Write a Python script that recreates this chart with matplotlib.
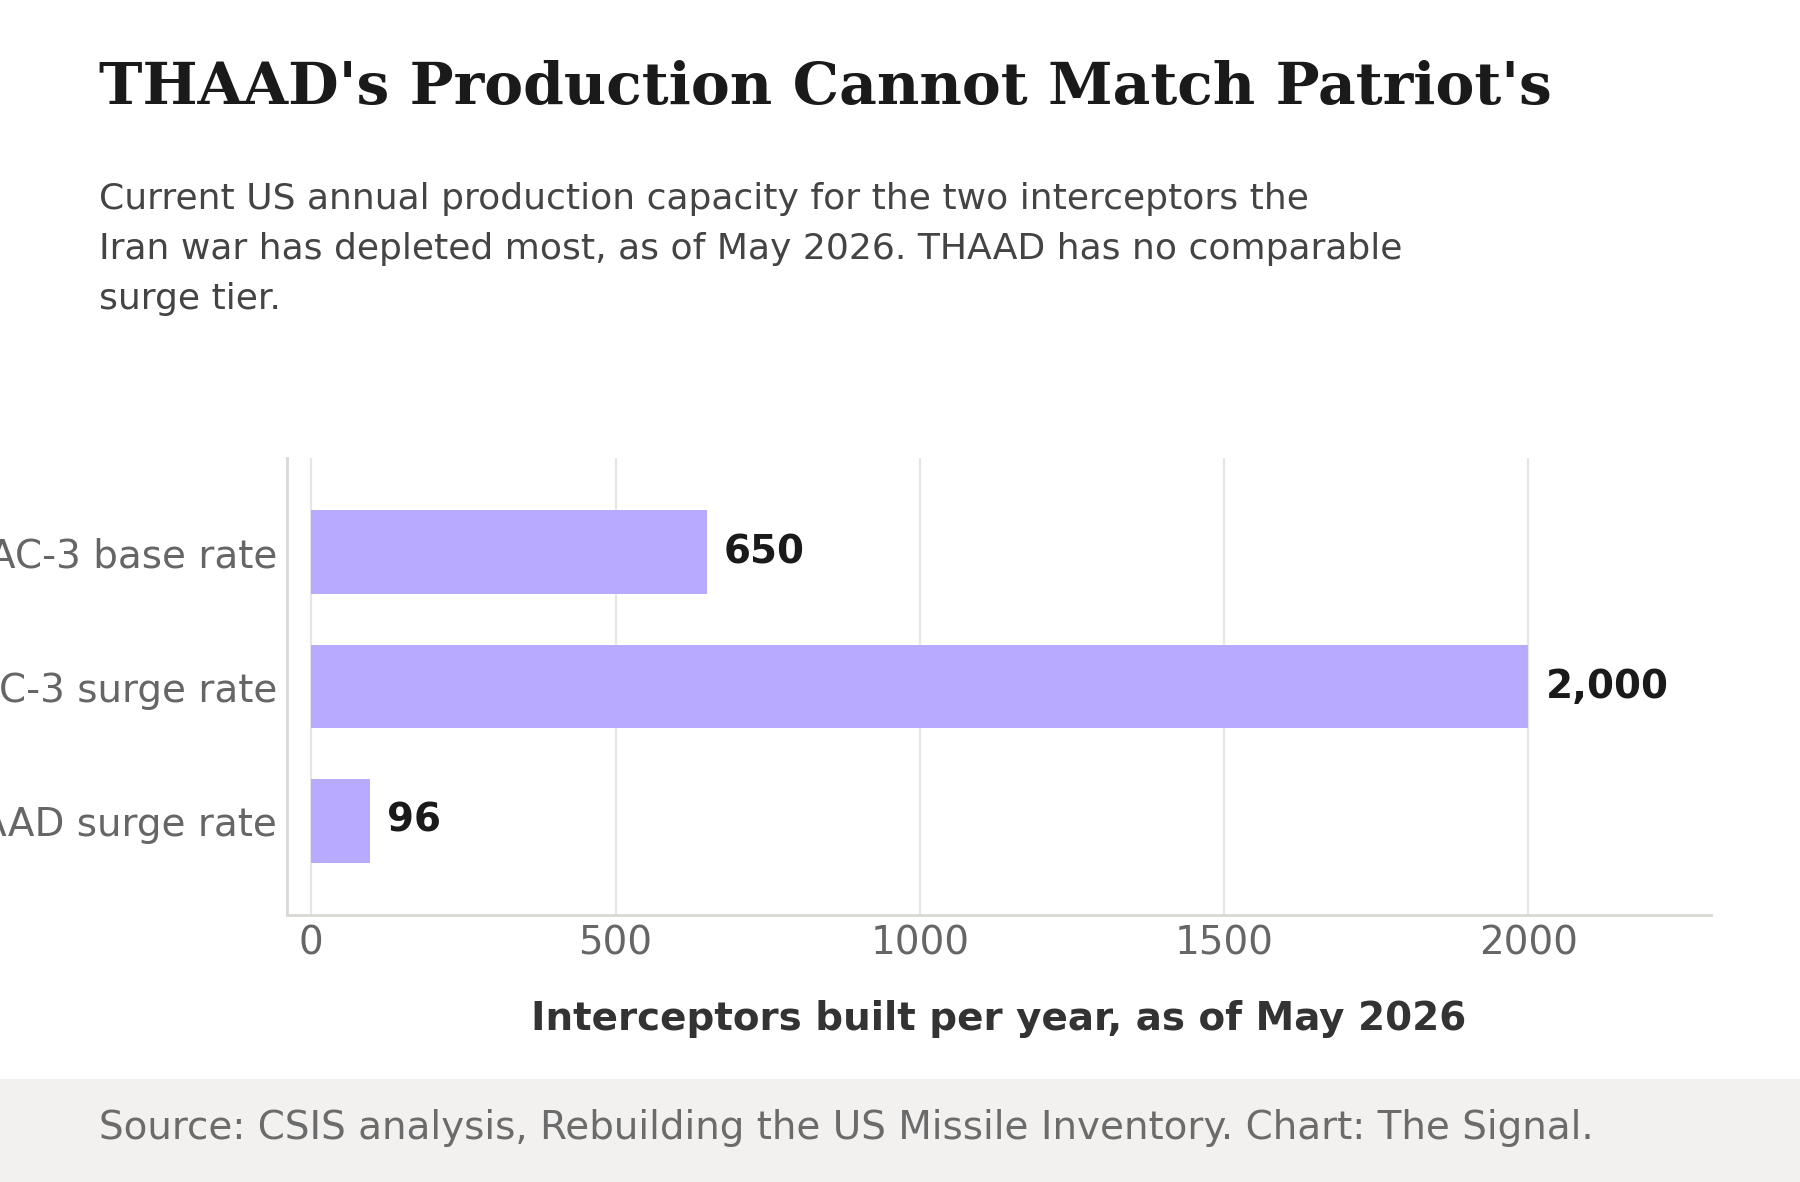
import matplotlib.pyplot as plt
from matplotlib.patches import Rectangle

categories = ["PAC-3 base rate", "PAC-3 surge rate", "THAAD surge rate"]
values = [650, 2000, 96]
value_labels = ["650", "2,000", "96"]
x_ticks = [0, 500, 1000, 1500, 2000]

title = "THAAD's Production Cannot Match Patriot's"
subtitle = ("Current US annual production capacity for the two interceptors the\n"
            "Iran war has depleted most, as of May 2026. THAAD has no comparable\n"
            "surge tier.")
xlabel = "Interceptors built per year, as of May 2026"
source = "Source: CSIS analysis, Rebuilding the US Missile Inventory. Chart: The Signal."

bar_color = "#b8aaff"
spine_color = "#d8d8d4"
grid_color = "#e6e6e6"

fig = plt.figure(figsize=(9, 5.91), dpi=200)
fig.patch.set_facecolor("white")

# footer band
fig.patches.append(Rectangle((0, 0), 1, 0.0871, transform=fig.transFigure,
                             facecolor="#f2f1ef", edgecolor="none", zorder=0))

ax = fig.add_axes([0.1594, 0.2259, 0.9506 - 0.1594, 0.6125 - 0.2259])

pos = list(range(len(categories)))
ax.barh(pos, values, height=0.62, color=bar_color, zorder=3)
for p, v, lab in zip(pos, values, value_labels):
    ax.text(v + 28, p, lab, va="center", ha="left", fontsize=14,
            fontweight="bold", color="#1a1a1a", zorder=4)

ax.set_yticks(pos)
ax.set_yticklabels(categories)
ax.set_ylim(2.7, -0.7)
ax.set_xlim(-40, 2300)
ax.set_xticks(x_ticks)
ax.set_xticklabels([str(t) for t in x_ticks])

ax.tick_params(axis="both", length=0, labelsize=14, labelcolor="#666666", pad=3.5)
ax.grid(axis="x", color=grid_color, linewidth=0.8, zorder=0)
ax.set_axisbelow(True)
for side in ["top", "right"]:
    ax.spines[side].set_visible(False)
for side in ["left", "bottom"]:
    ax.spines[side].set_color(spine_color)
    ax.spines[side].set_linewidth(1.0)

ax.set_xlabel(xlabel, fontsize=14, fontweight="bold", color="#333333", labelpad=13.5)

fig.text(0.055, 0.912, title, fontsize=21, fontweight="bold", family="DejaVu Serif",
         color="#1a1a1a", va="baseline", ha="left")
fig.text(0.055, 0.846, subtitle, fontsize=13, color="#444444", va="top", ha="left",
         linespacing=1.6)
fig.text(0.055, 0.0457, source, fontsize=14, color="#6b6b6b", va="center", ha="left")

fig.savefig("out.png", dpi=200)
